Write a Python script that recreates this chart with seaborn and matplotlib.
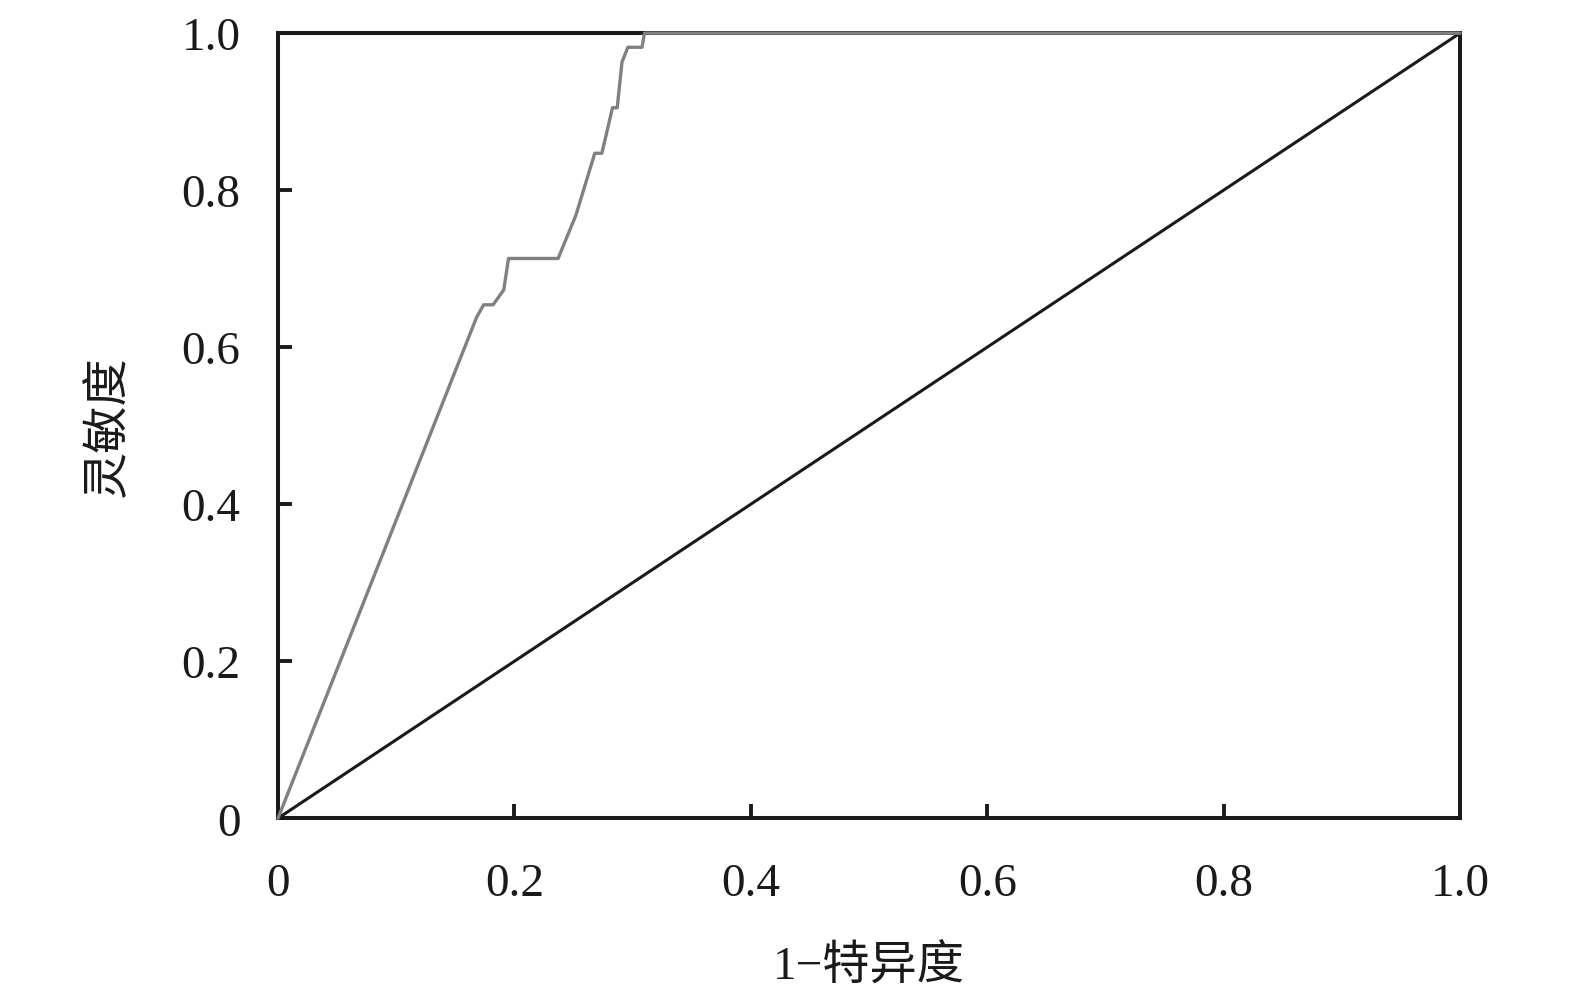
import matplotlib
matplotlib.use("Agg")
import matplotlib.pyplot as plt
import seaborn as sns
import pandas as pd

# ROC curve points (1 - specificity, sensitivity)
fpr = [0.0, 0.158, 0.168, 0.174, 0.182, 0.191, 0.195, 0.237, 0.252, 0.268, 0.274,
       0.283, 0.287, 0.291, 0.296, 0.308, 0.310, 1.0]
tpr = [0.0, 0.600, 0.638, 0.654, 0.654, 0.673, 0.713, 0.713, 0.768, 0.847, 0.847,
       0.905, 0.905, 0.963, 0.982, 0.982, 1.0, 1.0]
ref_x = [0.0, 1.0]
ref_y = [0.0, 1.0]
tick_vals = [0.0, 0.2, 0.4, 0.6, 0.8, 1.0]
tick_labels = ["0", "0.2", "0.4", "0.6", "0.8", "1.0"]
xlabel = "1−特异度"
ylabel = "灵敏度"

sns.set_theme(style="white")
plt.rcParams['font.family'] = ['Liberation Serif', 'Noto Sans CJK SC', 'DejaVu Sans']

fig = plt.figure(figsize=(15.75, 10.04), dpi=100)
ax = fig.add_axes([0.1765, 0.184, 0.7505, 0.782])

roc = pd.DataFrame({"x": fpr, "y": tpr})
diag = pd.DataFrame({"x": ref_x, "y": ref_y})
sns.lineplot(data=diag, x="x", y="y", ax=ax, color="#1a1a1a", lw=2.2,
             sort=False, estimator=None, zorder=3)
sns.lineplot(data=roc, x="x", y="y", ax=ax, color="#808080", lw=2.4,
             sort=False, estimator=None, zorder=4, clip_on=False)

ax.set_xlim(0, 1)
ax.set_ylim(0, 1)
ax.set_xticks(tick_vals)
ax.set_xticklabels(tick_labels)
ax.set_yticks(tick_vals)
ax.set_yticklabels(tick_labels)
ax.tick_params(axis="both", direction="in", length=10, width=2.8, color="#1a1a1a",
               labelsize=34, labelcolor="#1a1a1a", bottom=True, left=True,
               top=False, right=False)
ax.tick_params(axis="x", pad=32)
ax.tick_params(axis="y", pad=27)
for s in ax.spines.values():
    s.set_visible(True)
    s.set_linewidth(2.9)
    s.set_color("#1a1a1a")

ax.set_xlabel(xlabel, fontsize=34, color="#1a1a1a", labelpad=28)
ax.set_ylabel(ylabel, fontsize=34, color="#1a1a1a", labelpad=36)
ax.grid(False)

fig.savefig("out.png", dpi=100, facecolor="white")
